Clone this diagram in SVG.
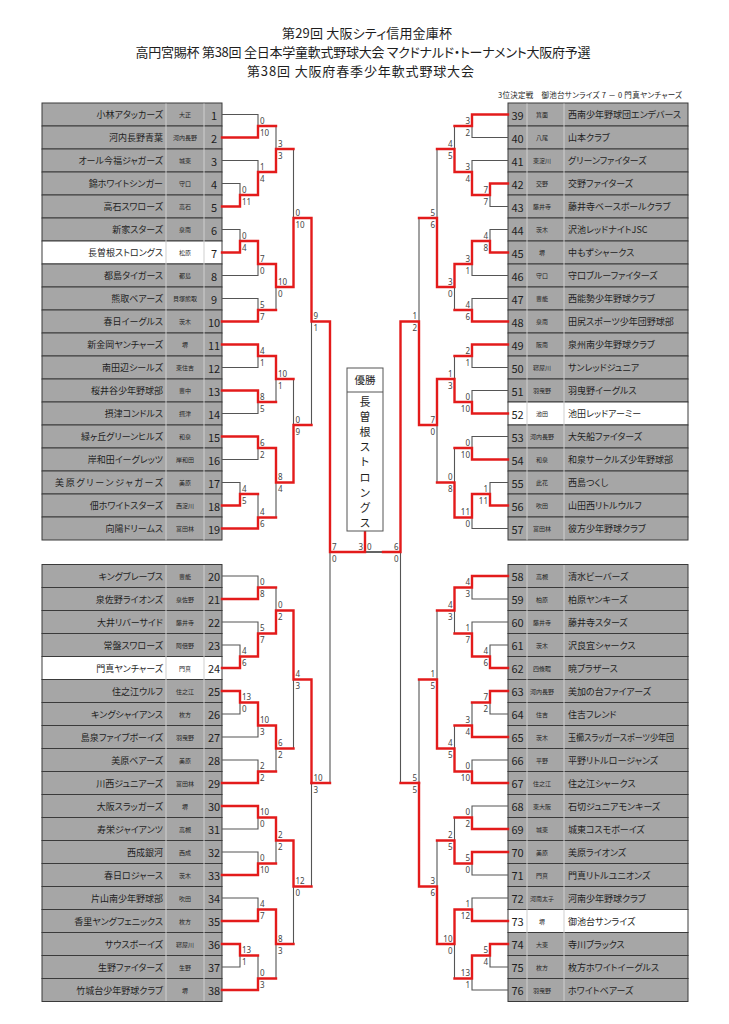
<svg xmlns="http://www.w3.org/2000/svg" width="729" height="1024" viewBox="0 0 729 1024">
<style>
text{font-family:"Noto Sans CJK JP","Noto Sans",sans-serif;font-feature-settings:"palt" 1;fill:#1e1e1e}
.t{font-size:13px;text-anchor:middle}
.sub{font-size:7.5px}
.g{fill:#a6a6a6;stroke:#3a3a3a;stroke-width:1}
.wh{fill:#ffffff;stroke:#3a3a3a;stroke-width:1}
.n{font-size:9px;text-anchor:end;dominant-baseline:central}
.rn{font-size:9px;text-anchor:start;dominant-baseline:central}
.a{font-size:6px;text-anchor:middle;dominant-baseline:central}
.d{font-size:11px;text-anchor:middle;dominant-baseline:central}
.sep{stroke:#cfcfcf;stroke-width:1}
.w{fill:none;stroke:#e31b1b;stroke-width:2.4;stroke-linejoin:miter;stroke-linecap:square}
.l{fill:none;stroke:#555;stroke-width:1.1}
.s text{font-size:8px;fill:#444;font-family:"Noto Sans","Liberation Sans",sans-serif}
.s .e{text-anchor:end}
</style>

<g id="title">
<text class="t" x="367" y="38" textLength="170" lengthAdjust="spacing">第29回 大阪シティ信用金庫杯</text>
<text class="t" x="363" y="57" textLength="455" lengthAdjust="spacing">高円宮賜杯 第38回 全日本学童軟式野球大会 マクドナルド・トーナメント大阪府予選</text>
<text class="t" x="360.5" y="76" textLength="227" lengthAdjust="spacing">第38回 大阪府春季少年軟式野球大会</text>
<text class="sub" x="498" y="98" textLength="184" lengthAdjust="spacing">3位決定戦　御池台サンライズ 7 － 0 門真ヤンチャーズ</text>
</g>

<g id="teams-left">
<g id="t1" transform="translate(0 114.5)"><rect class="g" x="42" y="-11.5" width="180" height="23"/><text class="n" x="163">小林アタッカーズ</text><text class="a" x="185">大正</text><text class="d" x="214">1</text></g>
<g id="t2" transform="translate(0 137.5)"><rect class="g" x="42" y="-11.5" width="180" height="23"/><text class="n" x="163">河内長野青葉</text><text class="a" x="185">河内長野</text><text class="d" x="214">2</text></g>
<g id="t3" transform="translate(0 160.5)"><rect class="g" x="42" y="-11.5" width="180" height="23"/><text class="n" x="163">オール今福ジャガーズ</text><text class="a" x="185">城東</text><text class="d" x="214">3</text></g>
<g id="t4" transform="translate(0 183.5)"><rect class="g" x="42" y="-11.5" width="180" height="23"/><text class="n" x="163">錦ホワイトシンガー</text><text class="a" x="185">守口</text><text class="d" x="214">4</text></g>
<g id="t5" transform="translate(0 206.5)"><rect class="g" x="42" y="-11.5" width="180" height="23"/><text class="n" x="163">高石スワローズ</text><text class="a" x="185">高石</text><text class="d" x="214">5</text></g>
<g id="t6" transform="translate(0 229.5)"><rect class="g" x="42" y="-11.5" width="180" height="23"/><text class="n" x="163">新家スターズ</text><text class="a" x="185">泉南</text><text class="d" x="214">6</text></g>
<g id="t7" transform="translate(0 252.5)"><rect class="wh" x="42" y="-11.5" width="180" height="23"/><text class="n" x="163">長曽根ストロングス</text><text class="a" x="185">松原</text><text class="d" x="214">7</text></g>
<g id="t8" transform="translate(0 275.5)"><rect class="g" x="42" y="-11.5" width="180" height="23"/><text class="n" x="163">都島タイガース</text><text class="a" x="185">都島</text><text class="d" x="214">8</text></g>
<g id="t9" transform="translate(0 298.5)"><rect class="g" x="42" y="-11.5" width="180" height="23"/><text class="n" x="163">熊取ベアーズ</text><text class="a" x="185">貝塚熊取</text><text class="d" x="214">9</text></g>
<g id="t10" transform="translate(0 321.5)"><rect class="g" x="42" y="-11.5" width="180" height="23"/><text class="n" x="163">春日イーグルス</text><text class="a" x="185">茨木</text><text class="d" x="214">10</text></g>
<g id="t11" transform="translate(0 344.5)"><rect class="g" x="42" y="-11.5" width="180" height="23"/><text class="n" x="163">新金岡ヤンチャーズ</text><text class="a" x="185">堺</text><text class="d" x="214">11</text></g>
<g id="t12" transform="translate(0 367.5)"><rect class="g" x="42" y="-11.5" width="180" height="23"/><text class="n" x="163">南田辺シールズ</text><text class="a" x="185">東住吉</text><text class="d" x="214">12</text></g>
<g id="t13" transform="translate(0 390.5)"><rect class="g" x="42" y="-11.5" width="180" height="23"/><text class="n" x="163">桜井谷少年野球部</text><text class="a" x="185">豊中</text><text class="d" x="214">13</text></g>
<g id="t14" transform="translate(0 413.5)"><rect class="g" x="42" y="-11.5" width="180" height="23"/><text class="n" x="163">摂津コンドルス</text><text class="a" x="185">摂津</text><text class="d" x="214">14</text></g>
<g id="t15" transform="translate(0 436.5)"><rect class="g" x="42" y="-11.5" width="180" height="23"/><text class="n" x="163">緑ヶ丘グリーンヒルズ</text><text class="a" x="185">和泉</text><text class="d" x="214">15</text></g>
<g id="t16" transform="translate(0 459.5)"><rect class="g" x="42" y="-11.5" width="180" height="23"/><text class="n" x="163">岸和田イーグレッツ</text><text class="a" x="185">岸和田</text><text class="d" x="214">16</text></g>
<g id="t17" transform="translate(0 482.5)"><rect class="g" x="42" y="-11.5" width="180" height="23"/><text class="n" x="163" textLength="108" lengthAdjust="spacing">美原グリーンジャガーズ</text><text class="a" x="185">美原</text><text class="d" x="214">17</text></g>
<g id="t18" transform="translate(0 505.5)"><rect class="g" x="42" y="-11.5" width="180" height="23"/><text class="n" x="163">佃ホワイトスターズ</text><text class="a" x="185">西淀川</text><text class="d" x="214">18</text></g>
<g id="t19" transform="translate(0 528.5)"><rect class="g" x="42" y="-11.5" width="180" height="23"/><text class="n" x="163">向陽ドリームス</text><text class="a" x="185">富田林</text><text class="d" x="214">19</text></g>
<g id="t20" transform="translate(0 576)"><rect class="g" x="42" y="-11.5" width="180" height="23"/><text class="n" x="163">キングブレーブス</text><text class="a" x="185">豊能</text><text class="d" x="214">20</text></g>
<g id="t21" transform="translate(0 599)"><rect class="g" x="42" y="-11.5" width="180" height="23"/><text class="n" x="163">泉佐野ライオンズ</text><text class="a" x="185">泉佐野</text><text class="d" x="214">21</text></g>
<g id="t22" transform="translate(0 622)"><rect class="g" x="42" y="-11.5" width="180" height="23"/><text class="n" x="163">大井リバーサイド</text><text class="a" x="185">藤井寺</text><text class="d" x="214">22</text></g>
<g id="t23" transform="translate(0 645)"><rect class="g" x="42" y="-11.5" width="180" height="23"/><text class="n" x="163">常盤スワローズ</text><text class="a" x="185">阿倍野</text><text class="d" x="214">23</text></g>
<g id="t24" transform="translate(0 668)"><rect class="wh" x="42" y="-11.5" width="180" height="23"/><text class="n" x="163">門真ヤンチャーズ</text><text class="a" x="185">門真</text><text class="d" x="214">24</text></g>
<g id="t25" transform="translate(0 691)"><rect class="g" x="42" y="-11.5" width="180" height="23"/><text class="n" x="163">住之江ウルフ</text><text class="a" x="185">住之江</text><text class="d" x="214">25</text></g>
<g id="t26" transform="translate(0 714)"><rect class="g" x="42" y="-11.5" width="180" height="23"/><text class="n" x="163">キングシャイアンス</text><text class="a" x="185">枚方</text><text class="d" x="214">26</text></g>
<g id="t27" transform="translate(0 737)"><rect class="g" x="42" y="-11.5" width="180" height="23"/><text class="n" x="163">島泉ファイブボーイズ</text><text class="a" x="185">羽曳野</text><text class="d" x="214">27</text></g>
<g id="t28" transform="translate(0 760)"><rect class="g" x="42" y="-11.5" width="180" height="23"/><text class="n" x="163">美原ベアーズ</text><text class="a" x="185">美原</text><text class="d" x="214">28</text></g>
<g id="t29" transform="translate(0 783)"><rect class="g" x="42" y="-11.5" width="180" height="23"/><text class="n" x="163">川西ジュニアーズ</text><text class="a" x="185">富田林</text><text class="d" x="214">29</text></g>
<g id="t30" transform="translate(0 806)"><rect class="g" x="42" y="-11.5" width="180" height="23"/><text class="n" x="163">大阪スラッガーズ</text><text class="a" x="185">堺</text><text class="d" x="214">30</text></g>
<g id="t31" transform="translate(0 829)"><rect class="g" x="42" y="-11.5" width="180" height="23"/><text class="n" x="163">寿栄ジャイアンツ</text><text class="a" x="185">高槻</text><text class="d" x="214">31</text></g>
<g id="t32" transform="translate(0 852)"><rect class="g" x="42" y="-11.5" width="180" height="23"/><text class="n" x="163">西成銀河</text><text class="a" x="185">西成</text><text class="d" x="214">32</text></g>
<g id="t33" transform="translate(0 875)"><rect class="g" x="42" y="-11.5" width="180" height="23"/><text class="n" x="163">春日ロジャース</text><text class="a" x="185">茨木</text><text class="d" x="214">33</text></g>
<g id="t34" transform="translate(0 898)"><rect class="g" x="42" y="-11.5" width="180" height="23"/><text class="n" x="163">片山南少年野球部</text><text class="a" x="185">吹田</text><text class="d" x="214">34</text></g>
<g id="t35" transform="translate(0 921)"><rect class="g" x="42" y="-11.5" width="180" height="23"/><text class="n" x="163">香里ヤングフェニックス</text><text class="a" x="185">枚方</text><text class="d" x="214">35</text></g>
<g id="t36" transform="translate(0 944)"><rect class="g" x="42" y="-11.5" width="180" height="23"/><text class="n" x="163">サウスボーイズ</text><text class="a" x="185">寝屋川</text><text class="d" x="214">36</text></g>
<g id="t37" transform="translate(0 967)"><rect class="g" x="42" y="-11.5" width="180" height="23"/><text class="n" x="163">生野ファイターズ</text><text class="a" x="185">生野</text><text class="d" x="214">37</text></g>
<g id="t38" transform="translate(0 990)"><rect class="g" x="42" y="-11.5" width="180" height="23"/><text class="n" x="163">竹城台少年野球クラブ</text><text class="a" x="185">堺</text><text class="d" x="214">38</text></g>
</g>

<g id="teams-right">
<g id="t39" transform="translate(0 114.5)"><rect class="g" x="508" y="-11.5" width="180" height="23"/><text class="d" x="517.5">39</text><text class="a" x="542">箕面</text><text class="rn" x="568">西南少年野球団エンデバース</text></g>
<g id="t40" transform="translate(0 137.5)"><rect class="g" x="508" y="-11.5" width="180" height="23"/><text class="d" x="517.5">40</text><text class="a" x="542">八尾</text><text class="rn" x="568">山本クラブ</text></g>
<g id="t41" transform="translate(0 160.5)"><rect class="g" x="508" y="-11.5" width="180" height="23"/><text class="d" x="517.5">41</text><text class="a" x="542">東淀川</text><text class="rn" x="568">グリーンファイターズ</text></g>
<g id="t42" transform="translate(0 183.5)"><rect class="g" x="508" y="-11.5" width="180" height="23"/><text class="d" x="517.5">42</text><text class="a" x="542">交野</text><text class="rn" x="568">交野ファイターズ</text></g>
<g id="t43" transform="translate(0 206.5)"><rect class="g" x="508" y="-11.5" width="180" height="23"/><text class="d" x="517.5">43</text><text class="a" x="542">藤井寺</text><text class="rn" x="568">藤井寺ベースボールクラブ</text></g>
<g id="t44" transform="translate(0 229.5)"><rect class="g" x="508" y="-11.5" width="180" height="23"/><text class="d" x="517.5">44</text><text class="a" x="542">茨木</text><text class="rn" x="568">沢池レッドナイトJSC</text></g>
<g id="t45" transform="translate(0 252.5)"><rect class="g" x="508" y="-11.5" width="180" height="23"/><text class="d" x="517.5">45</text><text class="a" x="542">堺</text><text class="rn" x="568">中もずシャークス</text></g>
<g id="t46" transform="translate(0 275.5)"><rect class="g" x="508" y="-11.5" width="180" height="23"/><text class="d" x="517.5">46</text><text class="a" x="542">守口</text><text class="rn" x="568">守口ブルーファイターズ</text></g>
<g id="t47" transform="translate(0 298.5)"><rect class="g" x="508" y="-11.5" width="180" height="23"/><text class="d" x="517.5">47</text><text class="a" x="542">豊能</text><text class="rn" x="568">西能勢少年野球クラブ</text></g>
<g id="t48" transform="translate(0 321.5)"><rect class="g" x="508" y="-11.5" width="180" height="23"/><text class="d" x="517.5">48</text><text class="a" x="542">泉南</text><text class="rn" x="568">田尻スポーツ少年団野球部</text></g>
<g id="t49" transform="translate(0 344.5)"><rect class="g" x="508" y="-11.5" width="180" height="23"/><text class="d" x="517.5">49</text><text class="a" x="542">阪南</text><text class="rn" x="568">泉州南少年野球クラブ</text></g>
<g id="t50" transform="translate(0 367.5)"><rect class="g" x="508" y="-11.5" width="180" height="23"/><text class="d" x="517.5">50</text><text class="a" x="542">寝屋川</text><text class="rn" x="568">サンレッドジュニア</text></g>
<g id="t51" transform="translate(0 390.5)"><rect class="g" x="508" y="-11.5" width="180" height="23"/><text class="d" x="517.5">51</text><text class="a" x="542">羽曳野</text><text class="rn" x="568">羽曳野イーグルス</text></g>
<g id="t52" transform="translate(0 413.5)"><rect class="wh" x="508" y="-11.5" width="180" height="23"/><text class="d" x="517.5">52</text><text class="a" x="542">池田</text><text class="rn" x="568">池田レッドアーミー</text></g>
<g id="t53" transform="translate(0 436.5)"><rect class="g" x="508" y="-11.5" width="180" height="23"/><text class="d" x="517.5">53</text><text class="a" x="542">河内長野</text><text class="rn" x="568">大矢船ファイターズ</text></g>
<g id="t54" transform="translate(0 459.5)"><rect class="g" x="508" y="-11.5" width="180" height="23"/><text class="d" x="517.5">54</text><text class="a" x="542">和泉</text><text class="rn" x="568">和泉サークルズ少年野球部</text></g>
<g id="t55" transform="translate(0 482.5)"><rect class="g" x="508" y="-11.5" width="180" height="23"/><text class="d" x="517.5">55</text><text class="a" x="542">此花</text><text class="rn" x="568">西島つくし</text></g>
<g id="t56" transform="translate(0 505.5)"><rect class="g" x="508" y="-11.5" width="180" height="23"/><text class="d" x="517.5">56</text><text class="a" x="542">吹田</text><text class="rn" x="568">山田西リトルウルフ</text></g>
<g id="t57" transform="translate(0 528.5)"><rect class="g" x="508" y="-11.5" width="180" height="23"/><text class="d" x="517.5">57</text><text class="a" x="542">富田林</text><text class="rn" x="568">彼方少年野球クラブ</text></g>
<g id="t58" transform="translate(0 576)"><rect class="g" x="508" y="-11.5" width="180" height="23"/><text class="d" x="517.5">58</text><text class="a" x="542">高槻</text><text class="rn" x="568">清水ビーバーズ</text></g>
<g id="t59" transform="translate(0 599)"><rect class="g" x="508" y="-11.5" width="180" height="23"/><text class="d" x="517.5">59</text><text class="a" x="542">柏原</text><text class="rn" x="568">柏原ヤンキーズ</text></g>
<g id="t60" transform="translate(0 622)"><rect class="g" x="508" y="-11.5" width="180" height="23"/><text class="d" x="517.5">60</text><text class="a" x="542">藤井寺</text><text class="rn" x="568">藤井寺スターズ</text></g>
<g id="t61" transform="translate(0 645)"><rect class="g" x="508" y="-11.5" width="180" height="23"/><text class="d" x="517.5">61</text><text class="a" x="542">茨木</text><text class="rn" x="568">沢良宜シャークス</text></g>
<g id="t62" transform="translate(0 668)"><rect class="g" x="508" y="-11.5" width="180" height="23"/><text class="d" x="517.5">62</text><text class="a" x="542">四條畷</text><text class="rn" x="568">暁ブラザース</text></g>
<g id="t63" transform="translate(0 691)"><rect class="g" x="508" y="-11.5" width="180" height="23"/><text class="d" x="517.5">63</text><text class="a" x="542">河内長野</text><text class="rn" x="568">美加の台ファイアーズ</text></g>
<g id="t64" transform="translate(0 714)"><rect class="g" x="508" y="-11.5" width="180" height="23"/><text class="d" x="517.5">64</text><text class="a" x="542">住吉</text><text class="rn" x="568">住吉フレンド</text></g>
<g id="t65" transform="translate(0 737)"><rect class="g" x="508" y="-11.5" width="180" height="23"/><text class="d" x="517.5">65</text><text class="a" x="542">茨木</text><text class="rn" x="568" textLength="106" lengthAdjust="spacingAndGlyphs">玉櫛スラッガースポーツ少年団</text></g>
<g id="t66" transform="translate(0 760)"><rect class="g" x="508" y="-11.5" width="180" height="23"/><text class="d" x="517.5">66</text><text class="a" x="542">平野</text><text class="rn" x="568">平野リトルロージャンズ</text></g>
<g id="t67" transform="translate(0 783)"><rect class="g" x="508" y="-11.5" width="180" height="23"/><text class="d" x="517.5">67</text><text class="a" x="542">住之江</text><text class="rn" x="568">住之江シャークス</text></g>
<g id="t68" transform="translate(0 806)"><rect class="g" x="508" y="-11.5" width="180" height="23"/><text class="d" x="517.5">68</text><text class="a" x="542">東大阪</text><text class="rn" x="568">石切ジュニアモンキーズ</text></g>
<g id="t69" transform="translate(0 829)"><rect class="g" x="508" y="-11.5" width="180" height="23"/><text class="d" x="517.5">69</text><text class="a" x="542">城東</text><text class="rn" x="568">城東コスモボーイズ</text></g>
<g id="t70" transform="translate(0 852)"><rect class="g" x="508" y="-11.5" width="180" height="23"/><text class="d" x="517.5">70</text><text class="a" x="542">美原</text><text class="rn" x="568">美原ライオンズ</text></g>
<g id="t71" transform="translate(0 875)"><rect class="g" x="508" y="-11.5" width="180" height="23"/><text class="d" x="517.5">71</text><text class="a" x="542">門真</text><text class="rn" x="568">門真リトルユニオンズ</text></g>
<g id="t72" transform="translate(0 898)"><rect class="g" x="508" y="-11.5" width="180" height="23"/><text class="d" x="517.5">72</text><text class="a" x="542">河南太子</text><text class="rn" x="568">河南少年野球クラブ</text></g>
<g id="t73" transform="translate(0 921)"><rect class="wh" x="508" y="-11.5" width="180" height="23"/><text class="d" x="517.5">73</text><text class="a" x="542">堺</text><text class="rn" x="568">御池台サンライズ</text></g>
<g id="t74" transform="translate(0 944)"><rect class="g" x="508" y="-11.5" width="180" height="23"/><text class="d" x="517.5">74</text><text class="a" x="542">大東</text><text class="rn" x="568">寺川ブラックス</text></g>
<g id="t75" transform="translate(0 967)"><rect class="g" x="508" y="-11.5" width="180" height="23"/><text class="d" x="517.5">75</text><text class="a" x="542">枚方</text><text class="rn" x="568">枚方ホワイトイーグルス</text></g>
<g id="t76" transform="translate(0 990)"><rect class="g" x="508" y="-11.5" width="180" height="23"/><text class="d" x="517.5">76</text><text class="a" x="542">羽曳野</text><text class="rn" x="568">ホワイトベアーズ</text></g>
</g>

<g id="column-separators" class="sep">
<path d="M166 103.5V540.5M204 103.5V540.5M166 565V1001M204 565V1001M527 103.5V540.5M564 103.5V540.5M527 565V1001M564 565V1001"/>
</g>

<g id="connectors">
<path class="l" d="M222 183.5H240V195M222 160.5H258V172M222 114.5H258V126M276 126V149M222 229.5H240V241M222 275.5H258V264M222 298.5H258V310M276 310V287M293.5 149V218M222 367.5H258V356M222 413.5H258V402M276 402V379M222 459.5H258V448M222 482.5H240V494M258 494V517.5M276 517.5V482.5M293.5 379V425M311.5 425V321.5M330 783V552"/>
<path class="l" d="M222 576H258V587.5M222 645H240V656.5M222 622H258V633.5M276 587.5V610.5M222 714H240V702.5M222 737H258V725.5M222 760H258V771.5M276 771.5V748.5M293.5 748.5V679.5M222 829H258V817.5M222 852H258V863.5M276 863.5V840.5M222 898H258V909.5M222 967H240V955.5M258 955.5V978.5M276 978.5V944M293.5 944V886.5M311.5 886.5V783"/>
<path class="l" d="M508 137.5H472V126M508 206.5H490V195M508 160.5H472V172M454.5 126V149M508 229.5H490V241M508 275.5H472V264M508 298.5H472V310M454.5 310V287M437 149V218M508 367.5H472V356M508 390.5H472V402M454.5 356V379M508 436.5H472V448M508 482.5H490V494M508 528.5H472V517.5M454.5 448V482.5M437 482.5V425M419 218V321.5M400.5 783V552"/>
<path class="l" d="M508 599H472V587.5M508 645H490V656.5M508 622H472V633.5M454.5 633.5V610.5M508 714H490V702.5M472 702.5V725.5M508 760H472V771.5M454.5 725.5V748.5M437 610.5V679.5M508 806H472V817.5M508 875H472V863.5M454.5 817.5V840.5M508 898H472V909.5M508 967H490V955.5M508 990H472V978.5M454.5 978.5V944M437 840.5V886.5M419 679.5V783"/>
<path class="l" d="M383 552H365" style="stroke:#222;stroke-width:1.4"/>
<path class="w" d="M222 206.5H240V195M240 195H258V172M222 137.5H258V126M258 172H276V149M258 126H276M222 252.5H240V241M240 241H258V264M222 321.5H258V310M258 264H276V287M258 310H276M276 287H293.5V218M276 149H293.5M222 344.5H258V356M222 390.5H258V402M258 356H276V379M258 402H276M222 436.5H258V448M222 505.5H240V494M222 528.5H258V517.5M240 494H258M258 448H276V482.5M258 517.5H276M276 482.5H293.5V425M276 379H293.5M293.5 218H311.5V321.5M293.5 425H311.5M311.5 321.5H330V552M311.5 783H330M330 552H365V531"/>
<path class="w" d="M222 599H258V587.5M222 668H240V656.5M240 656.5H258V633.5M258 633.5H276V610.5M258 587.5H276M222 691H240V702.5M240 702.5H258V725.5M222 783H258V771.5M258 725.5H276V748.5M258 771.5H276M276 610.5H293.5V679.5M276 748.5H293.5M222 806H258V817.5M222 875H258V863.5M258 817.5H276V840.5M258 863.5H276M222 921H258V909.5M222 944H240V955.5M222 990H258V978.5M240 955.5H258M258 909.5H276V944M258 978.5H276M276 840.5H293.5V886.5M276 944H293.5M293.5 679.5H311.5V783M293.5 886.5H311.5"/>
<path class="w" d="M508 114.5H472V126M508 183.5H490V195M490 195H472V172M472 172H454.5V149M472 126H454.5M508 252.5H490V241M490 241H472V264M508 321.5H472V310M472 264H454.5V287M472 310H454.5M454.5 287H437V218M454.5 149H437M508 344.5H472V356M508 413.5H472V402M472 402H454.5V379M472 356H454.5M508 459.5H472V448M508 505.5H490V494M490 494H472V517.5M472 517.5H454.5V482.5M472 448H454.5M454.5 379H437V425M454.5 482.5H437M437 425H419V321.5M437 218H419M419 321.5H400.5V552M419 783H400.5M400.5 552H383"/>
<path class="w" d="M508 576H472V587.5M508 668H490V656.5M490 656.5H472V633.5M472 587.5H454.5V610.5M472 633.5H454.5M508 691H490V702.5M508 737H472V725.5M490 702.5H472M508 783H472V771.5M472 771.5H454.5V748.5M472 725.5H454.5M454.5 748.5H437V679.5M454.5 610.5H437M508 829H472V817.5M508 852H472V863.5M472 863.5H454.5V840.5M472 817.5H454.5M508 921H472V909.5M508 944H490V955.5M490 955.5H472V978.5M472 909.5H454.5V944M472 978.5H454.5M454.5 944H437V886.5M454.5 840.5H437M437 886.5H419V783M437 679.5H419"/>
</g>

<g id="scores" class="s">
<text x="242" y="192.5">0</text><text x="242" y="204.5">11</text>
<text x="260" y="169.5">1</text><text x="260" y="181.5">4</text>
<text x="260" y="123.5">0</text><text x="260" y="135.5">10</text>
<text x="278" y="146.5">3</text><text x="278" y="158.5">3</text>
<text x="242" y="238.5">0</text><text x="242" y="250.5">4</text>
<text x="260" y="261.5">7</text><text x="260" y="273.5">0</text>
<text x="260" y="307.5">5</text><text x="260" y="319.5">7</text>
<text x="278" y="284.5">10</text><text x="278" y="296.5">0</text>
<text x="295.5" y="215.5">0</text><text x="295.5" y="227.5">10</text>
<text x="260" y="353.5">4</text><text x="260" y="365.5">1</text>
<text x="260" y="399.5">8</text><text x="260" y="411.5">5</text>
<text x="278" y="376.5">10</text><text x="278" y="388.5">1</text>
<text x="260" y="445.5">6</text><text x="260" y="457.5">2</text>
<text x="242" y="491.5">4</text><text x="242" y="503.5">5</text>
<text x="260" y="515">4</text><text x="260" y="527">6</text>
<text x="278" y="480">8</text><text x="278" y="492">4</text>
<text x="295.5" y="422.5">0</text><text x="295.5" y="434.5">9</text>
<text x="313.5" y="319">9</text><text x="313.5" y="331">1</text>
<text x="332" y="549.5">7</text><text x="332" y="561.5">0</text>
<text x="260" y="585">0</text><text x="260" y="597">8</text>
<text x="242" y="654">4</text><text x="242" y="666">6</text>
<text x="260" y="631">5</text><text x="260" y="643">7</text>
<text x="278" y="608">0</text><text x="278" y="620">2</text>
<text x="242" y="700">13</text><text x="242" y="712">0</text>
<text x="260" y="723">10</text><text x="260" y="735">3</text>
<text x="260" y="769">2</text><text x="260" y="781">2</text>
<text x="278" y="746">6</text><text x="278" y="758">2</text>
<text x="295.5" y="677">4</text><text x="295.5" y="689">3</text>
<text x="260" y="815">10</text><text x="260" y="827">0</text>
<text x="260" y="861">0</text><text x="260" y="873">10</text>
<text x="278" y="838">2</text><text x="278" y="850">2</text>
<text x="260" y="907">4</text><text x="260" y="919">7</text>
<text x="242" y="953">13</text><text x="242" y="965">1</text>
<text x="260" y="976">0</text><text x="260" y="988">3</text>
<text x="278" y="941.5">8</text><text x="278" y="953.5">3</text>
<text x="295.5" y="884">12</text><text x="295.5" y="896">0</text>
<text x="313.5" y="780.5">10</text><text x="313.5" y="792.5">3</text>
<text class="e" x="363" y="549.5">3</text><text x="367" y="549.5">0</text>
<text class="e" x="470" y="123.5">3</text><text class="e" x="470" y="135.5">2</text>
<text class="e" x="488" y="192.5">7</text><text class="e" x="488" y="204.5">7</text>
<text class="e" x="470" y="169.5">3</text><text class="e" x="470" y="181.5">4</text>
<text class="e" x="452.5" y="146.5">4</text><text class="e" x="452.5" y="158.5">5</text>
<text class="e" x="488" y="238.5">4</text><text class="e" x="488" y="250.5">8</text>
<text class="e" x="470" y="261.5">3</text><text class="e" x="470" y="273.5">1</text>
<text class="e" x="470" y="307.5">4</text><text class="e" x="470" y="319.5">6</text>
<text class="e" x="452.5" y="284.5">3</text><text class="e" x="452.5" y="296.5">0</text>
<text class="e" x="435" y="215.5">5</text><text class="e" x="435" y="227.5">6</text>
<text class="e" x="470" y="353.5">2</text><text class="e" x="470" y="365.5">1</text>
<text class="e" x="470" y="399.5">0</text><text class="e" x="470" y="411.5">10</text>
<text class="e" x="452.5" y="376.5">1</text><text class="e" x="452.5" y="388.5">3</text>
<text class="e" x="470" y="445.5">0</text><text class="e" x="470" y="457.5">10</text>
<text class="e" x="488" y="491.5">1</text><text class="e" x="488" y="503.5">11</text>
<text class="e" x="470" y="515">11</text><text class="e" x="470" y="527">0</text>
<text class="e" x="452.5" y="480">0</text><text class="e" x="452.5" y="492">8</text>
<text class="e" x="435" y="422.5">7</text><text class="e" x="435" y="434.5">0</text>
<text class="e" x="417" y="319">1</text><text class="e" x="417" y="331">2</text>
<text class="e" x="398.5" y="549.5">6</text><text class="e" x="398.5" y="561.5">0</text>
<text class="e" x="470" y="585">4</text><text class="e" x="470" y="597">3</text>
<text class="e" x="488" y="654">4</text><text class="e" x="488" y="666">6</text>
<text class="e" x="470" y="631">1</text><text class="e" x="470" y="643">7</text>
<text class="e" x="452.5" y="608">4</text><text class="e" x="452.5" y="620">3</text>
<text class="e" x="488" y="700">7</text><text class="e" x="488" y="712">2</text>
<text class="e" x="470" y="723">3</text><text class="e" x="470" y="735">4</text>
<text class="e" x="470" y="769">0</text><text class="e" x="470" y="781">10</text>
<text class="e" x="452.5" y="746">4</text><text class="e" x="452.5" y="758">5</text>
<text class="e" x="435" y="677">1</text><text class="e" x="435" y="689">5</text>
<text class="e" x="470" y="815">0</text><text class="e" x="470" y="827">2</text>
<text class="e" x="470" y="861">5</text><text class="e" x="470" y="873">0</text>
<text class="e" x="452.5" y="838">2</text><text class="e" x="452.5" y="850">5</text>
<text class="e" x="470" y="907">1</text><text class="e" x="470" y="919">12</text>
<text class="e" x="488" y="953">5</text><text class="e" x="488" y="965">4</text>
<text class="e" x="470" y="976">13</text><text class="e" x="470" y="988">1</text>
<text class="e" x="452.5" y="941.5">10</text><text class="e" x="452.5" y="953.5">0</text>
<text class="e" x="435" y="884">3</text><text class="e" x="435" y="896">6</text>
<text class="e" x="417" y="780.5">5</text><text class="e" x="417" y="792.5">5</text>
</g>

<g id="champion">
<rect x="347" y="368" width="36" height="163" fill="#fff" stroke="#555" stroke-width="1"/>
<line x1="347" y1="392" x2="383" y2="392" stroke="#555" stroke-width="1"/>
<text x="365" y="384" font-size="10.5" text-anchor="middle">優勝</text>
<text font-size="11" text-anchor="middle" dominant-baseline="central"><tspan x="365" y="401">長</tspan><tspan x="365" y="416">曽</tspan><tspan x="365" y="431">根</tspan><tspan x="365" y="446">ス</tspan><tspan x="365" y="461">ト</tspan><tspan x="365" y="476.5">ロ</tspan><tspan x="365" y="492">ン</tspan><tspan x="365" y="507">グ</tspan><tspan x="365" y="522">ス</tspan></text>
</g>
</svg>
